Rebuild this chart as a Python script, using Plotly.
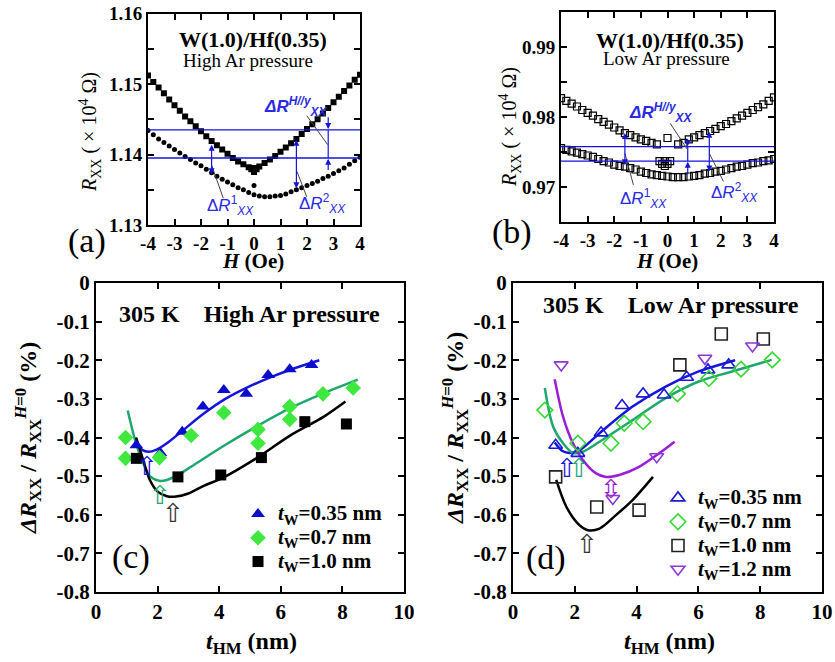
import plotly.graph_objects as go

# ---------------- data ----------------
# Panel (a): W(1.0)/Hf(0.35), high Ar pressure
H_a = [-4.0, -3.8, -3.6, -3.4, -3.2, -3.0, -2.8, -2.6, -2.4, -2.2, -2.0, -1.8, -1.6, -1.4, -1.2, -1.0,
       -0.8, -0.6, -0.4, -0.2, 0.0, 0.2, 0.4, 0.6, 0.8, 1.0, 1.2, 1.4, 1.6, 1.8, 2.0, 2.2, 2.4, 2.6,
       2.8, 3.0, 3.2, 3.4, 3.6, 3.8, 4.0]
Ra_sq = [1.1512, 1.1503, 1.1495, 1.1487, 1.1478, 1.1470, 1.1462, 1.1454, 1.1447, 1.1440,
         1.1433, 1.1426, 1.1419, 1.1413, 1.1407, 1.1401, 1.1395, 1.1390, 1.1386, 1.1382,
         1.1378,
         1.1383, 1.1388, 1.1393, 1.1398, 1.1404, 1.1410, 1.1416, 1.1422, 1.1429, 1.1436,
         1.1443, 1.1450, 1.1458, 1.1466, 1.1474, 1.1482, 1.1490, 1.1498, 1.1506, 1.1513]
Ra_ci = [1.1434, 1.1428, 1.1422, 1.1417, 1.1412, 1.1407, 1.1402, 1.1397, 1.1393, 1.1388,
         1.1384, 1.1379, 1.1374, 1.1369, 1.1365, 1.1361, 1.1357, 1.1353, 1.1350, 1.1346,
         1.1343,
         1.1341, 1.1340, 1.1340, 1.1341, 1.1342, 1.1344, 1.1347, 1.1350, 1.1353, 1.1356,
         1.1359, 1.1362, 1.1366, 1.1369, 1.1373, 1.1377, 1.1381, 1.1386, 1.1391, 1.1396]
Ha_extra_sq = [0.0, -0.1, 0.1, 0.0]
Ra_extra_sq = [1.1375, 1.1379, 1.1379, 1.1381]
Ha_extra_ci = [0.0]
Ra_extra_ci = [1.1356]
levels_a = [1.1435, 1.1395]

# Panel (b): W(1.0)/Hf(0.35), low Ar pressure
H_b_up = [-4.0, -3.8, -3.6, -3.4, -3.2, -3.0, -2.8, -2.6, -2.4, -2.2, -2.0, -1.8, -1.6, -1.4, -1.2,
          -1.0, -0.8, -0.6, -0.4, 0.0,
          0.4, 0.6, 0.8, 1.0, 1.2, 1.4, 1.6, 1.8, 2.0, 2.2, 2.4, 2.6, 2.8, 3.0, 3.2, 3.4, 3.6, 3.8, 4.0]
Rb_up = [0.9827, 0.9823, 0.9819, 0.9815, 0.9810, 0.9806, 0.9802, 0.9797, 0.9793, 0.9789,
         0.9785, 0.9781, 0.9777, 0.9774, 0.9771, 0.9768, 0.9766, 0.9763, 0.9761, 0.9770,
         0.9761, 0.9763, 0.9768, 0.9771, 0.9774, 0.9777, 0.9780, 0.9783, 0.9787, 0.9790,
         0.9794, 0.9798, 0.9802, 0.9806, 0.9810, 0.9814, 0.9818, 0.9823, 0.9828]
H_b_lo = H_a + [-0.3, -0.1, 0.1, -0.2, 0.0, -0.1]
Rb_lo = [0.97555, 0.9753, 0.9751, 0.9749, 0.9747, 0.9745, 0.9743, 0.9740, 0.9737, 0.9735,
         0.9732, 0.9730, 0.9729, 0.9727, 0.9725, 0.9722, 0.9720, 0.9718, 0.9717, 0.9716,
         0.9715,
         0.9714, 0.9714, 0.9714, 0.9715, 0.9716, 0.9717, 0.9719, 0.9720, 0.9722, 0.9723,
         0.9725, 0.9727, 0.9729, 0.9730, 0.9732, 0.9734, 0.9735, 0.9737, 0.9738, 0.9740,
         0.9737, 0.9737, 0.9737, 0.9733, 0.9733, 0.9730]
levels_b = [0.97576, 0.97371]

# Panel (c): 305 K, high Ar pressure
c_tri_x = [1.31, 2.09, 2.80, 3.47, 4.15, 4.88, 5.59, 6.29, 7.00]
c_tri_y = [-0.42, -0.44, -0.385, -0.32, -0.277, -0.287, -0.238, -0.223, -0.212]
c_dia_x = [0.96, 0.96, 2.06, 3.09, 4.15, 5.26, 5.26, 6.29, 6.29, 7.37, 8.35]
c_dia_y = [-0.40, -0.454, -0.452, -0.395, -0.336, -0.379, -0.415, -0.32, -0.353, -0.287, -0.272]
c_sq_x = [1.31, 2.66, 4.05, 5.37, 6.78, 8.13]
c_sq_y = [-0.454, -0.502, -0.497, -0.452, -0.359, -0.365]
c_fit_blue_x = [1.30, 1.50, 1.70, 1.95, 2.30, 2.80, 3.50, 4.20, 5.00, 5.70, 6.40, 7.25]
c_fit_blue_y = [-0.415, -0.432, -0.437, -0.432, -0.415, -0.383, -0.338, -0.300, -0.267, -0.243, -0.222, -0.200]
c_fit_green_x = [1.03, 1.30, 1.55, 1.75, 2.05, 2.30, 2.70, 3.10, 4.10, 5.20, 6.30, 7.40, 8.50]
c_fit_green_y = [-0.33, -0.415, -0.47, -0.50, -0.512, -0.51, -0.495, -0.475, -0.424, -0.372, -0.324, -0.285, -0.25]
c_fit_black_x = [1.30, 1.50, 1.75, 2.00, 2.30, 2.60, 3.00, 3.50, 4.10, 5.20, 6.30, 7.40, 8.10]
c_fit_black_y = [-0.40, -0.45, -0.51, -0.54, -0.552, -0.553, -0.545, -0.525, -0.505, -0.454, -0.395, -0.346, -0.307]
c_arrow_x = [1.65, 2.09, 2.50]
c_arrow_y = [-0.473, -0.548, -0.595]

# Panel (d): 305 K, low Ar pressure
d_tri_x = [1.38, 2.10, 2.85, 3.53, 4.21, 4.89, 5.62, 6.31, 6.98]
d_tri_y = [-0.42, -0.441, -0.388, -0.317, -0.287, -0.29, -0.244, -0.225, -0.212]
d_dia_x = [1.03, 2.10, 3.17, 3.60, 4.21, 5.32, 6.34, 7.38, 8.39]
d_dia_y = [-0.329, -0.415, -0.415, -0.363, -0.359, -0.287, -0.247, -0.223, -0.199]
d_sq_x = [1.38, 2.71, 4.08, 5.40, 6.74, 8.10]
d_sq_y = [-0.502, -0.58, -0.588, -0.212, -0.132, -0.145]
d_inv_x = [1.56, 3.23, 4.65, 6.21, 7.75]
d_inv_y = [-0.212, -0.558, -0.45, -0.195, -0.163]
d_fit_blue_x = [1.35, 1.60, 1.83, 2.15, 2.80, 3.87, 4.94, 6.01, 7.19]
d_fit_blue_y = [-0.413, -0.435, -0.44, -0.433, -0.389, -0.32, -0.268, -0.229, -0.20]
d_fit_green_x = [1.03, 1.30, 1.62, 1.94, 2.26, 2.80, 3.87, 4.94, 6.01, 7.09, 8.37]
d_fit_green_y = [-0.272, -0.372, -0.415, -0.44, -0.437, -0.411, -0.355, -0.298, -0.255, -0.229, -0.199]
d_fit_black_x = [1.40, 1.73, 2.15, 2.42, 2.80, 3.33, 3.87, 4.53]
d_fit_black_y = [-0.51, -0.58, -0.627, -0.64, -0.636, -0.601, -0.562, -0.502]
d_fit_purple_x = [1.35, 1.62, 1.94, 2.26, 2.69, 3.01, 3.44, 4.08, 4.73, 5.23]
d_fit_purple_y = [-0.249, -0.346, -0.415, -0.458, -0.493, -0.502, -0.497, -0.476, -0.441, -0.411]

# tick labels
tick_H = [-4, -3, -2, -1, 0, 1, 2, 3, 4]
tick_H_text = ["-4", "-3", "-2", "-1", "0", "1", "2", "3", "4"]
tick_a_y = [1.13, 1.14, 1.15, 1.16]
tick_b_y = [0.97, 0.98, 0.99]
tick_t = [0, 2, 4, 6, 8, 10]
tick_r = [0, -0.1, -0.2, -0.3, -0.4, -0.5, -0.6, -0.7, -0.8]
tick_r_text = ["0", "-0.1", "-0.2", "-0.3", "-0.4", "-0.5", "-0.6", "-0.7", "-0.8"]

# ---------------- styling ----------------
W, HGT = 835, 662
SERIF = "Liberation Serif"
SANS = "Liberation Sans"
BLUE = "#1414dc"
ANN_BLUE = "#2a2ae0"
GREEN_LINE = "#1fa86e"
GREEN_MK = "#3ee83e"
PURPLE = "#9a1ed6"


def px(x):
    return x / W


def py(y):
    return 1 - y / HGT


def lg(s):
    return '<span style="font-size:21px">' + s + '</span>'


fig = go.Figure()

# panel a
fig.add_trace(go.Scatter(x=H_a + Ha_extra_sq, y=Ra_sq + Ra_extra_sq, mode="markers",
                         marker=dict(symbol="square", size=6, color="black"),
                         xaxis="x", yaxis="y", showlegend=False))
fig.add_trace(go.Scatter(x=H_a + Ha_extra_ci, y=Ra_ci + Ra_extra_ci, mode="markers",
                         marker=dict(symbol="circle", size=5, color="black"),
                         xaxis="x", yaxis="y", showlegend=False))
# panel b
fig.add_trace(go.Scatter(x=H_b_up, y=Rb_up, mode="markers",
                         marker=dict(symbol="square-open", size=7, color="black", line=dict(width=1.2)),
                         xaxis="x2", yaxis="y2", showlegend=False))
fig.add_trace(go.Scatter(x=H_b_lo, y=Rb_lo, mode="markers",
                         marker=dict(symbol="square-open", size=7, color="black", line=dict(width=1.2)),
                         xaxis="x2", yaxis="y2", showlegend=False))

# panel c fits
for xs, ys, col in [(c_fit_blue_x, c_fit_blue_y, BLUE), (c_fit_green_x, c_fit_green_y, GREEN_LINE),
                    (c_fit_black_x, c_fit_black_y, "black")]:
    fig.add_trace(go.Scatter(x=xs, y=ys, mode="lines", line=dict(color=col, width=2.5, shape="spline", smoothing=0.9),
                             xaxis="x3", yaxis="y3", showlegend=False, hoverinfo="skip"))
fig.add_trace(go.Scatter(x=c_tri_x, y=c_tri_y, mode="markers", name=lg("<i>t</i><sub>W</sub>=0.35 nm"),
                         marker=dict(symbol="triangle-up", size=12, color="#0c0ccc"),
                         xaxis="x3", yaxis="y3", legend="legend"))
fig.add_trace(go.Scatter(x=c_dia_x, y=c_dia_y, mode="markers", name=lg("<i>t</i><sub>W</sub>=0.7 nm"),
                         marker=dict(symbol="diamond", size=12, color=GREEN_MK),
                         xaxis="x3", yaxis="y3", legend="legend"))
fig.add_trace(go.Scatter(x=c_sq_x, y=c_sq_y, mode="markers", name=lg("<i>t</i><sub>W</sub>=1.0 nm"),
                         marker=dict(symbol="square", size=11, color="black"),
                         xaxis="x3", yaxis="y3", legend="legend"))

# panel d fits
for xs, ys, col in [(d_fit_blue_x, d_fit_blue_y, BLUE), (d_fit_green_x, d_fit_green_y, GREEN_LINE),
                    (d_fit_black_x, d_fit_black_y, "black"), (d_fit_purple_x, d_fit_purple_y, PURPLE)]:
    fig.add_trace(go.Scatter(x=xs, y=ys, mode="lines", line=dict(color=col, width=2.5, shape="spline", smoothing=0.9),
                             xaxis="x4", yaxis="y4", showlegend=False, hoverinfo="skip"))
fig.add_trace(go.Scatter(x=d_tri_x, y=d_tri_y, mode="markers", name=lg("<i>t</i><sub>W</sub>=0.35 nm"),
                         marker=dict(symbol="triangle-up-open", size=12, color="#1a1ad8", line=dict(width=1.6)),
                         xaxis="x4", yaxis="y4", legend="legend2"))
fig.add_trace(go.Scatter(x=d_dia_x, y=d_dia_y, mode="markers", name=lg("<i>t</i><sub>W</sub>=0.7 nm"),
                         marker=dict(symbol="diamond-open", size=12, color="#33d833", line=dict(width=1.6)),
                         xaxis="x4", yaxis="y4", legend="legend2"))
fig.add_trace(go.Scatter(x=d_sq_x, y=d_sq_y, mode="markers", name=lg("<i>t</i><sub>W</sub>=1.0 nm"),
                         marker=dict(symbol="square-open", size=12, color="#222222", line=dict(width=1.6)),
                         xaxis="x4", yaxis="y4", legend="legend2"))
fig.add_trace(go.Scatter(x=d_inv_x, y=d_inv_y, mode="markers", name=lg("<i>t</i><sub>W</sub>=1.2 nm"),
                         marker=dict(symbol="triangle-down-open", size=12, color="#8a38d8", line=dict(width=1.6)),
                         xaxis="x4", yaxis="y4", legend="legend2"))

# ---------------- axes ----------------
tickfont_ab = dict(family=SERIF, size=19, color="black", weight="bold")
tickfont_cd = dict(family=SERIF, size=21, color="black", weight="bold")
common = dict(showline=True, linecolor="black", linewidth=2, mirror="ticks", ticks="inside",
              ticklen=6, tickwidth=1.5, tickcolor="black", showgrid=False, zeroline=False,
              automargin=False)

fig.update_layout(
    width=W, height=HGT, margin=dict(l=0, r=0, t=0, b=0, autoexpand=False),
    paper_bgcolor="white", plot_bgcolor="white",
    xaxis=dict(domain=[px(148), px(360)], range=[-4, 4], anchor="y", tickvals=tick_H, ticktext=tick_H_text,
               tickfont=tickfont_ab, **common),
    yaxis=dict(domain=[py(225), py(13.5)], range=[1.13, 1.16], anchor="x", tickvals=tick_a_y,
               tickformat=".2f", tickfont=tickfont_ab,
               minor=dict(dtick=0.005, tick0=1.13, ticks="inside", ticklen=6, tickwidth=1.5, tickcolor="black"),
               **common),
    xaxis2=dict(domain=[px(561), px(774)], range=[-4, 4], anchor="y2", tickvals=tick_H, ticktext=tick_H_text,
                tickfont=tickfont_ab, **common),
    yaxis2=dict(domain=[py(222), py(12)], range=[0.965, 0.995], anchor="x2", tickvals=tick_b_y,
                tickformat=".2f", tickfont=tickfont_ab,
                minor=dict(dtick=0.005, tick0=0.965, ticks="inside", ticklen=6, tickwidth=1.5, tickcolor="black"),
                **common),
    xaxis3=dict(domain=[px(96), px(404)], range=[0, 10], anchor="y3", tickvals=tick_t,
                tickfont=tickfont_cd, **common),
    yaxis3=dict(domain=[py(592), py(283)], range=[-0.8, 0], anchor="x3", tickvals=tick_r, ticktext=tick_r_text,
                tickfont=tickfont_cd, **common),
    xaxis4=dict(domain=[px(513), px(822)], range=[0, 10], anchor="y4", tickvals=tick_t,
                tickfont=tickfont_cd, **common),
    yaxis4=dict(domain=[py(592), py(283)], range=[-0.8, 0], anchor="x4", tickvals=tick_r, ticktext=tick_r_text,
                tickfont=tickfont_cd, **common),
    legend=dict(x=px(238), y=py(497), xanchor="left", yanchor="top", bgcolor="rgba(0,0,0,0)",
                font=dict(family=SERIF, size=16, color="black", weight="bold"), tracegroupgap=0,
                itemwidth=30),
    legend2=dict(x=px(658), y=py(481), xanchor="left", yanchor="top", bgcolor="rgba(0,0,0,0)",
                 font=dict(family=SERIF, size=16, color="black", weight="bold"), tracegroupgap=0,
                 itemwidth=30),
)

shapes = []
# blue reference lines
for lv in levels_a:
    shapes.append(dict(type="line", xref="x", yref="y", x0=-4, x1=4, y0=lv, y1=lv,
                       line=dict(color=BLUE, width=1.3)))
for lv in levels_b:
    shapes.append(dict(type="line", xref="x2", yref="y2", x0=-4, x1=4, y0=lv, y1=lv,
                       line=dict(color=BLUE, width=1.3)))
# connecting segments of the H//y arrows
shapes.append(dict(type="line", xref="x", yref="y", x0=2.8, x1=2.8, y0=1.1395, y1=1.1435,
                   line=dict(color=BLUE, width=1.2)))
shapes.append(dict(type="line", xref="x2", yref="y2", x0=0.76, x1=0.76, y0=0.97371, y1=0.97576,
                   line=dict(color=BLUE, width=1.2)))
# gray leader lines
LEAD = dict(color="#444444", width=1)
for x0, y0, x1, y1 in [(-1.16, 1.1338, -1.6, 1.1385), (1.99, 1.1340, 1.62, 1.1376), (1.99, 1.1455, 2.78, 1.1414)]:
    shapes.append(dict(type="line", xref="x", yref="y", x0=x0, y0=y0, x1=x1, y1=y1, line=LEAD))
for x0, y0, x1, y1 in [(-1.28, 0.9703, -1.6, 0.9748), (2.1, 0.9708, 1.57, 0.9748), (0.1, 0.9791, 0.76, 0.9753)]:
    shapes.append(dict(type="line", xref="x2", yref="y2", x0=x0, y0=y0, x1=x1, y1=y1, line=LEAD))
fig.update_layout(shapes=shapes)

ann = []


def arrow(xr, yr, x, y0, y1, both=False):
    ann.append(dict(xref=xr, yref=yr, axref=xr, ayref=yr, x=x, y=y1, ax=x, ay=y0, text="",
                    showarrow=True, arrowhead=2, arrowsize=1, arrowwidth=1.2, arrowcolor=BLUE,
                    arrowside="end+start" if both else "end", standoff=0, startstandoff=0))


arrow("x", "y", -1.6, 1.1370, 1.1414, both=True)
arrow("x", "y", 1.6, 1.1350, 1.1421, both=True)
arrow("x", "y", 2.8, 1.1455, 1.1436)
arrow("x", "y", 2.8, 1.1376, 1.1394)
arrow("x2", "y2", -1.6, 0.9729, 0.9777, both=True)
arrow("x2", "y2", 1.57, 0.9720, 0.9779, both=True)
arrow("x2", "y2", 0.76, 0.9770, 0.97585)
arrow("x2", "y2", 0.76, 0.9716, 0.97360)


def text(x, y, s, size, family=SERIF, color="black", angle=0, weight="normal"):
    ann.append(dict(xref="paper", yref="paper", x=px(x), y=py(y), text=s, showarrow=False,
                    xanchor="center", yanchor="middle", textangle=angle,
                    font=dict(family=family, size=size, color=color, weight=weight)))


# panel inner labels
text(253, 39, "W(1.0)/Hf(0.35)", 22, weight="bold")
text(248, 61, "High Ar pressure", 19)
text(670, 40, "W(1.0)/Hf(0.35)", 22, weight="bold")
text(666, 58, "Low Ar pressure", 19)
text(250, 314, "305 K\u2002\u2002High Ar pressure", 24, weight="bold")
text(671, 305, "305 K\u2002\u2002Low Ar pressure", 24, weight="bold")

# blue delta labels
DR1 = "Δ<i>R</i><sup>1</sup><sub><i>XX</i></sub>"
DR2 = "Δ<i>R</i><sup>2</sup><sub><i>XX</i></sub>"
DRH = "<i>ΔR</i><sup><i>H//y</i></sup><sub><i>XX</i></sub>"
text(295, 107, "<b>" + DRH + "</b>", 17, family=SANS, color=ANN_BLUE)
text(231, 206, DR1, 17, family=SANS, color=ANN_BLUE)
text(322, 203, DR2, 17, family=SANS, color=ANN_BLUE)
text(660, 113, "<b>" + DRH + "</b>", 17, family=SANS, color=ANN_BLUE)
text(643, 198, DR1, 17, family=SANS, color=ANN_BLUE)
text(734, 192, DR2, 17, family=SANS, color=ANN_BLUE)

# panel letters
text(87, 241, "(a)", 34)
text(512, 232, "(b)", 34)
text(131, 557, "(c)", 34)
text(546, 558, "(d)", 34)

# axis titles
text(253, 261, "<b><i>H</i> (Oe)</b>", 21)
text(667, 261, "<b><i>H</i> (Oe)</b>", 21)
text(90, 132, "<i>R</i><sub>XX</sub> ( × 10<sup>4</sup> Ω)", 20, angle=-90)
text(510, 127, "<i>R</i><sub>XX</sub> ( × 10<sup>4</sup> Ω)", 20, angle=-90)
text(252, 643, "<b><i>t</i><sub>HM</sub> (nm)</b>", 24)
text(669, 643, "<b><i>t</i><sub>HM</sub> (nm)</b>", 24)
YT = "<b><i>ΔR</i><sub>XX</sub> / <i>R</i><sub>XX</sub><sup><i>H</i>=0</sup> (%)</b>"
text(28, 438, YT, 24, angle=-90)
text(455, 428, YT, 24, angle=-90)

# hollow arrows marking minima
for xa, ya, col in zip(c_arrow_x, c_arrow_y, [BLUE, GREEN_LINE, "#333333"]):
    ann.append(dict(xref="x3", yref="y3", x=xa, y=ya, text="⇧", showarrow=False,
                    font=dict(family="DejaVu Sans", size=26, color=col)))
for xa, ya, sym, col in [(1.76, -0.479, "⇧", BLUE), (2.15, -0.479, "⇧", GREEN_LINE),
                         (3.17, -0.534, "⇳", PURPLE), (2.39, -0.676, "⇧", "#333333")]:
    ann.append(dict(xref="x4", yref="y4", x=xa, y=ya, text=sym, showarrow=False,
                    font=dict(family="DejaVu Sans", size=26, color=col)))

fig.update_layout(annotations=ann)
fig.write_html("out.html", config={"displayModeBar": False},
               post_script="document.body.style.margin='0';")
